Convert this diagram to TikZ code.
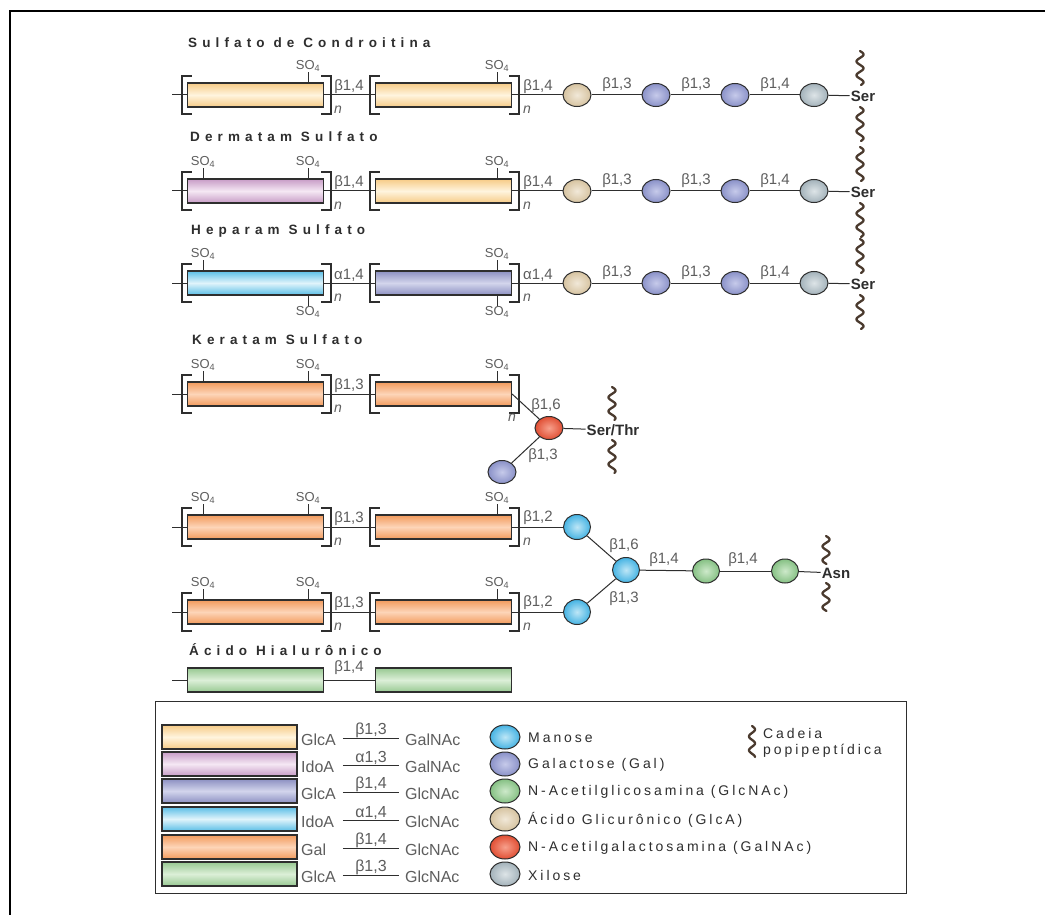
\documentclass[tikz,border=0pt]{standalone}
\usepackage{fontspec}
\setmainfont{Liberation Sans}
\newfontfamily\ttlfont[LetterSpace=38]{Liberation Sans}
\newfontfamily\legfont[LetterSpace=21]{Liberation Sans}
\usetikzlibrary{shapes.geometric}
\definecolor{ink}{HTML}{2E2E2E}
\definecolor{labc}{HTML}{5E5E5E}
\definecolor{wavc}{HTML}{4A3A2E}
\definecolor{yelD}{HTML}{F6CB86}\definecolor{yelL}{HTML}{FFF4DE}
\definecolor{purD}{HTML}{C79CC6}\definecolor{purL}{HTML}{F5E8F4}
\definecolor{slaD}{HTML}{8C90C2}\definecolor{slaL}{HTML}{D3D5EC}
\definecolor{cyaD}{HTML}{5BBEE6}\definecolor{cyaL}{HTML}{E0F4FB}
\definecolor{oraD}{HTML}{F29A5C}\definecolor{oraL}{HTML}{FDD5B8}
\definecolor{grnD}{HTML}{98C992}\definecolor{grnL}{HTML}{DCEFD8}
\definecolor{tanO}{HTML}{D6C3A0}\definecolor{tanI}{HTML}{F1E8D8}
\definecolor{galO}{HTML}{8A91C8}\definecolor{galI}{HTML}{C6CAEA}
\definecolor{xylO}{HTML}{A3B2BA}\definecolor{xylI}{HTML}{DDE4E7}
\definecolor{redO}{HTML}{E04E33}\definecolor{redI}{HTML}{F7A08C}
\definecolor{manO}{HTML}{45B3E3}\definecolor{manI}{HTML}{BDE6F6}
\definecolor{glcO}{HTML}{85C083}\definecolor{glcI}{HTML}{CDE9CA}
\tikzset{
  box/.style={draw=ink, line width=1.2pt, minimum width=136pt, minimum height=24pt, inner sep=0pt},
  sw/.style={draw=ink, line width=1.2pt, minimum width=135pt, minimum height=24pt, inner sep=0pt},
  yel/.style={top color=yelD, bottom color=yelD, middle color=yelL},
  pur/.style={top color=purD, bottom color=purD, middle color=purL},
  sla/.style={top color=slaD, bottom color=slaD, middle color=slaL},
  cya/.style={top color=cyaD, bottom color=cyaD, middle color=cyaL},
  ora/.style={top color=oraD, bottom color=oraD, middle color=oraL},
  grn/.style={top color=grnD, bottom color=grnD, middle color=grnL},
  sug/.style={ellipse, draw=ink, line width=1pt, minimum width=28pt, minimum height=23pt, inner sep=0pt},
  lsug/.style={sug, minimum width=30pt, minimum height=24pt},
  tanc/.style={inner color=tanI, outer color=tanO},
  galc/.style={inner color=galI, outer color=galO},
  xylc/.style={inner color=xylI, outer color=xylO},
  redc/.style={inner color=redI, outer color=redO},
  manc/.style={inner color=manI, outer color=manO},
  glcc/.style={inner color=glcI, outer color=glcO},
  chain/.style={draw=ink, line width=1pt},
  brk/.style={draw=ink, line width=1.4pt},
  tick/.style={draw=ink, line width=1pt},
  lab/.style={text=labc, font=\fontsize{15}{16}\selectfont, inner sep=0pt},
  so/.style={text=labc, font=\fontsize{13}{14}\selectfont, inner sep=0.5pt},
  nl/.style={text=labc, font=\fontsize{14}{15}\selectfont\itshape, inner sep=0pt},
  ttl/.style={text=ink, font=\ttlfont\bfseries\fontsize{13.5}{15}\selectfont, anchor=west, inner sep=0pt},
  aa/.style={text=ink, font=\bfseries\fontsize{15}{16}\selectfont, inner sep=1pt},
  lt/.style={text=labc, font=\fontsize{16}{17}\selectfont, inner sep=0pt},
  lname/.style={text=ink, font=\legfont\fontsize{14}{16}\selectfont, inner sep=0pt, anchor=west},
  wavy/.style={draw=wavc, line width=2.3pt, line cap=round},
}
\newcommand\wav[4]{\draw[wavy] plot[domain=#2:#3, samples=60, smooth, variable=\t] ({#1+#4*sin((\t-#2)*26)}, {\t});}
\newcommand\gunit[5]{%
  \coordinate (#1s) at (172,#2);
  \node[box,#3] (#1a) at (255.5,#2) {};
  \node[box,#4] (#1b) at (443.5,#2) {};
  \draw[chain] (#1s) -- (#1a.west);
  \draw[chain] (#1a) -- (#1b);
  \draw[brk] ([xshift=5pt,yshift=19pt]#1a.west) -- ++(-10pt,0pt) -- ++(0pt,-38pt) -- ++(10pt,0pt);
  \draw[brk] ([xshift=-3pt,yshift=19pt]#1a.east) -- ++(10pt,0pt) -- ++(0pt,-38pt) -- ++(-10pt,0pt);
  \draw[brk] ([xshift=5pt,yshift=19pt]#1b.west) -- ++(-10pt,0pt) -- ++(0pt,-38pt) -- ++(10pt,0pt);
  \draw[brk] ([xshift=-3pt,yshift=19pt]#1b.east) -- ++(10pt,0pt) -- ++(0pt,-38pt) -- ++(-10pt,0pt);
  \node[lab] (#1l) at (349,#2-8) {#5};
  \node[nl] (#1n) at (338,#2+15) {n};
}
\newcommand\soup[3]{\coordinate (#1x) at (#3,0); \draw[tick] (#2.north -| #1x) -- ++(0pt,10pt) node[so,anchor=south] (#1) {SO\textsubscript{4}};}
\newcommand\sodn[3]{\coordinate (#1x) at (#3,0); \draw[tick] (#2.south -| #1x) -- ++(0pt,-10pt) node[so,anchor=north] (#1) {SO\textsubscript{4}};}
\newcommand\serchain[3]{%
  \node[lab] (#1l2) at (538,#2-8) {#3};
  \node[nl] (#1n2) at (527,#2+15) {n};
  \node[sug,tanc] (#1c1) at (577,#2) {};
  \node[sug,galc] (#1c2) at (656,#2) {};
  \node[sug,galc] (#1c3) at (735,#2) {};
  \node[sug,xylc] (#1c4) at (814,#2) {};
  \node[aa] (#1ser) at (863,#2+1) {Ser};
  \draw[chain] (#1b) -- (#1c1);
  \draw[chain] (#1c1) -- (#1c2);
  \draw[chain] (#1c2) -- (#1c3);
  \draw[chain] (#1c3) -- (#1c4);
  \draw[chain] (#1c4) -- (#1ser);
  \node[lab] (#1l3) at (617,#2-10) {β1,3};
  \node[lab] (#1l4) at (696,#2-10) {β1,3};
  \node[lab] (#1l5) at (775,#2-10) {β1,4};
  \pgfmathsetmacro\wya{#2-44}\pgfmathsetmacro\wyb{#2-10}%
  \pgfmathsetmacro\wyc{#2+12}\pgfmathsetmacro\wyd{#2+46}%
  \wav{860}{\wya}{\wyb}{3.5}
  \wav{860}{\wyc}{\wyd}{3.5}
}
\begin{document}
\begin{tikzpicture}[x=1pt,y=-1pt]
\useasboundingbox (0,0) rectangle (1045,915);
\fill[white] (0,0) rectangle (1045,915);
% frame
\draw[line width=2.2pt, black] (10,915) -- (10,11) -- (1045,11);

% titles
\node[ttl] (t1) at (188,43) {Sulfato de Condroitina};
\node[ttl] (t2) at (190,137) {Dermatam Sulfato};
\node[ttl] (t3) at (191,231) {Heparam Sulfato};
\node[ttl] (t4) at (192,340) {Keratam Sulfato};
\node[ttl] (t7) at (189,650) {Ácido Hialurônico};

% row 1
\gunit{r1}{95}{yel}{yel}{β1,4}
\soup{r1p}{r1a}{308}
\soup{r1q}{r1b}{497}
\serchain{r1}{95}{β1,4}

% row 2
\gunit{r2}{191}{pur}{yel}{β1,4}
\soup{r2p}{r2a}{203}
\soup{r2q}{r2a}{308}
\soup{r2r}{r2b}{497}
\serchain{r2}{191}{β1,4}

% row 3
\gunit{r3}{283}{cya}{sla}{α1,4}
\soup{r3p}{r3a}{203}
\sodn{r3q}{r3a}{308}
\soup{r3r}{r3b}{497}
\sodn{r3s}{r3b}{497}
\serchain{r3}{283}{α1,4}

% row 4 keratam
\gunit{r4}{394}{ora}{ora}{β1,3}
\soup{r4p}{r4a}{203}
\soup{r4q}{r4a}{308}
\soup{r4r}{r4b}{497}
\node[nl] (r4n2) at (512,418) {n};
\node[sug,redc] (r4red) at (549,428) {};
\node[sug,galc] (r4gal) at (502,472) {};
\node[aa] (r4st) at (613,430) {Ser/Thr};
\draw[chain] (r4b.east) -- (r4red);
\draw[chain] (r4red) -- (r4st);
\draw[chain] (r4red) -- (r4gal);
\node[lab] (r4l6) at (546,406) {β1,6};
\node[lab] (r4l3) at (543,456) {β1,3};
\wav{612}{387}{420}{3.5}
\wav{612}{440}{473}{3.5}

% rows 5 and 6
\gunit{r5}{527}{ora}{ora}{β1,3}
\soup{r5p}{r5a}{203}
\soup{r5q}{r5a}{308}
\soup{r5r}{r5b}{497}
\node[lab] (r5l2) at (538,518) {β1,2};
\node[nl] (r5n2) at (527,542) {n};
\gunit{r6}{612}{ora}{ora}{β1,3}
\soup{r6p}{r6a}{203}
\soup{r6q}{r6a}{308}
\soup{r6r}{r6b}{497}
\node[lab] (r6l2) at (538,603) {β1,2};
\node[nl] (r6n2) at (527,627) {n};
\node[sug,manc,minimum width=27pt,minimum height=25pt] (m5) at (577,527) {};
\node[sug,manc,minimum width=27pt,minimum height=25pt] (m6) at (577,612) {};
\node[sug,manc,minimum width=27pt,minimum height=25pt] (mc) at (626,570) {};
\node[sug,glcc,minimum width=27pt,minimum height=24pt] (g1) at (706,571) {};
\node[sug,glcc,minimum width=27pt,minimum height=24pt] (g2) at (785,571) {};
\node[aa] (asn) at (836,573) {Asn};
\draw[chain] (r5b) -- (m5);
\draw[chain] (r6b) -- (m6);
\draw[chain] (m5) -- (mc);
\draw[chain] (m6) -- (mc);
\draw[chain] (mc) -- (g1);
\draw[chain] (g1) -- (g2);
\draw[chain] (g2) -- (asn);
\node[lab] (ml6) at (624,546) {β1,6};
\node[lab] (ml3) at (624,599) {β1,3};
\node[lab] (gl1) at (664,560) {β1,4};
\node[lab] (gl2) at (743,560) {β1,4};
\wav{826}{536}{564}{3.5}
\wav{826}{583}{611}{3.5}

% row 7 hialuronico
\coordinate (r7s) at (172,680);
\node[box,grn] (r7a) at (255.5,680) {};
\node[box,grn] (r7b) at (443.5,680) {};
\draw[chain] (r7s) -- (r7a.west);
\draw[chain] (r7a) -- (r7b);
\node[lab] (r7l) at (349,668) {β1,4};

% legend
\node[draw=ink, line width=1.2pt, minimum width=751pt, minimum height=192pt, inner sep=0pt, anchor=north west] (leg) at (155,701) {};
\foreach \i/\yy/\st/\lw/\lk/\rw in {1/737/yel/GlcA/{β1,3}/GalNAc, 2/764/pur/IdoA/{α1,3}/GalNAc, 3/791/sla/GlcA/{β1,4}/GlcNAc, 4/819/cya/IdoA/{α1,4}/GlcNAc, 5/847/ora/Gal/{β1,4}/GlcNAc, 6/874/grn/GlcA/{β1,3}/GlcNAc}{
  \node[sw,\st] (k\i) at (229.5,\yy) {};
  \node[lt,anchor=west] (k\i l) at (301,\yy+3) {\lw};
  \node[lt,anchor=west] (k\i r) at (405,\yy+3) {\rw};
  \node[lt,minimum width=56pt,anchor=south] (k\i m) at (371,\yy+1) {\lk};
  \draw[chain] (k\i m.south west) -- (k\i m.south east);
}
\foreach \i/\yy/\st/\nm in {1/737/manc/{Manose}, 2/764/galc/{Galactose (Gal)}, 3/791/glcc/{N-Acetilglicosamina (GlcNAc)}, 4/819/tanc/{Ácido Glicurônico (GlcA)}, 5/847/redc/{N-Acetilgalactosamina (GalNAc)}, 6/874/xylc/{Xilose}}{
  \node[lsug,\st] (c\i) at (505,\yy) {};
  \node[lname] (c\i t) at (528,\yy+1) {\nm};
}
\wav{752}{726}{757}{3}
\node[lname] (cad1) at (763,733) {Cadeia};
\node[lname] (cad2) at (763,751) {popipeptídica};
\end{tikzpicture}
\end{document}
